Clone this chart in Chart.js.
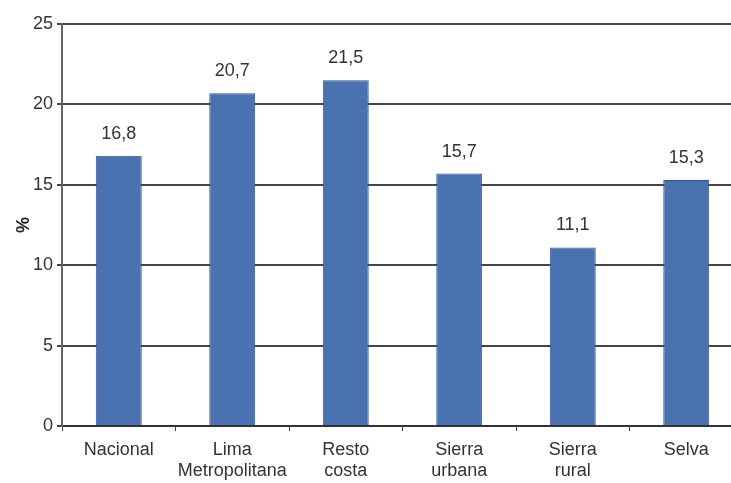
<!DOCTYPE html>
<html>
<head>
<meta charset="utf-8">
<script src="https://cdn.jsdelivr.net/npm/chart.js@4/dist/chart.umd.min.js"></script>
<style>
  html, body { margin: 0; padding: 0; background: #fff; overflow: hidden; }
  #wrap { width: 731px; height: 483px; overflow: hidden; }
</style>
</head>
<body>
<div id="wrap"><canvas id="chart" width="745" height="483"></canvas></div>
<script>
const categories = [['Nacional'], ['Lima', 'Metropolitana'], ['Resto', 'costa'], ['Sierra', 'urbana'], ['Sierra', 'rural'], ['Selva']];
const values = [16.8, 20.7, 21.5, 15.7, 11.1, 15.3];
const yTicks = [0, 5, 10, 15, 20, 25];

const FONT = 'Liberation Sans, Arial, sans-serif';

// value labels above each bar, decimal comma
const barLabels = {
    id: 'barLabels',
    afterDatasetsDraw(chart) {
        const ctx = chart.ctx;
        const meta = chart.getDatasetMeta(0);
        ctx.save();
        ctx.fillStyle = '#333';
        ctx.font = '18px ' + FONT;
        ctx.textAlign = 'center';
        ctx.textBaseline = 'middle';
        meta.data.forEach((bar, i) => {
            const txt = values[i].toFixed(1).replace('.', ',');
            ctx.fillText(txt, bar.x, bar.y - 22);
        });
        ctx.restore();
    }
};

new Chart(document.getElementById('chart').getContext('2d'), {
    type: 'bar',
    data: {
        labels: categories,
        datasets: [{
            data: values,
            backgroundColor: '#4a71b0',
            borderColor: '#2f5590',
            borderWidth: 1,
            categoryPercentage: 1,
            barPercentage: 0.405
        }]
    },
    options: {
        responsive: false,
        animation: false,
        layout: { padding: { top: 24, right: 2, left: 0, bottom: 0 } },
        plugins: { legend: { display: false }, tooltip: { enabled: false } },
        scales: {
            x: {
                afterFit: s => { s.height = 57; },
                grid: { drawOnChartArea: false, drawTicks: true, tickLength: 5, color: '#444', offset: true },
                border: { display: true, color: '#333', width: 2 },
                ticks: { color: '#333', font: { family: FONT, size: 18 }, padding: 8, maxRotation: 0, autoSkip: false }
            },
            y: {
                min: 0,
                max: 25,
                afterFit: s => { s.width = 62; },
                afterBuildTicks: s => { s.ticks = yTicks.map(v => ({ value: v })); },
                grid: { color: '#444', lineWidth: 2, tickLength: 5 },
                border: { display: true, color: '#666', width: 2 },
                ticks: { color: '#333', font: { family: FONT, size: 18 }, padding: 4 },
                title: { display: true, text: '%', color: '#222', font: { family: FONT, size: 18, weight: 'bold' }, padding: { top: 13, bottom: 0 } }
            }
        }
    },
    plugins: [barLabels]
});
</script>
</body>
</html>
